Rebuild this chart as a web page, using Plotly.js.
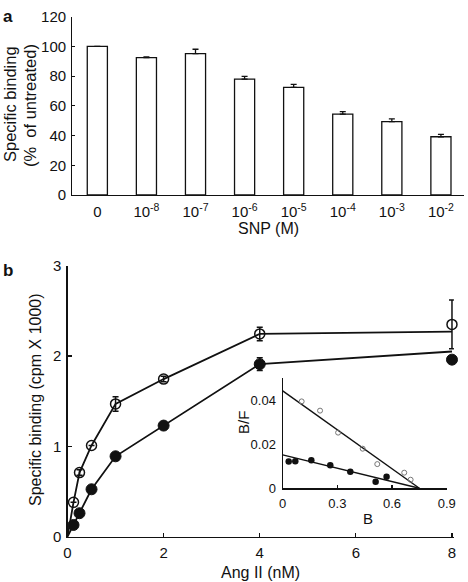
<!DOCTYPE html>
<html>
<head>
<meta charset="utf-8">
<script src="https://cdn.plot.ly/plotly-3.0.1.min.js"></script>
<style>html,body{margin:0;padding:0;background:#fff;}#chart{width:468px;height:582px;}</style>
</head>
<body>
<div id="chart"></div>
<script>
// ---- Panel a: SNP concentration vs specific binding (% of untreated)
const snpLabels = ['0', '10<sup>-8</sup>', '10<sup>-7</sup>', '10<sup>-6</sup>', '10<sup>-5</sup>', '10<sup>-4</sup>', '10<sup>-3</sup>', '10<sup>-2</sup>'];
const snpBinding = [100, 92.5, 95.1, 78.0, 72.5, 54.4, 49.4, 39.2];
const snpError = [0, 0.5, 3.0, 1.8, 2.0, 1.7, 1.8, 1.6];

// ---- Panel b: Ang II saturation binding (cpm x 1000)
const angII = [0.125, 0.25, 0.5, 1, 2, 4, 8];
const openBinding = [0.38, 0.71, 1.01, 1.47, 1.745, 2.245, 2.35];
const openError = [0, 0.03, 0, 0.08, 0.03, 0.075, 0.27];
const filledBinding = [0.13, 0.26, 0.525, 0.89, 1.23, 1.91, 1.96];
const filledError = [0, 0, 0, 0, 0.04, 0.07, 0];
// connecting curves (start at origin; end value from the fitted curve)
const curveX = [0, 0.125, 0.25, 0.5, 1, 2, 4, 8];
const openCurve = [0, 0.38, 0.71, 1.01, 1.47, 1.745, 2.245, 2.27];
const filledCurve = [0, 0.13, 0.26, 0.525, 0.89, 1.23, 1.91, 2.05];

// ---- Inset: Scatchard plot (B vs B/F)
const openB = [0.104, 0.205, 0.304, 0.439, 0.519, 0.667, 0.702];
const openBF = [0.0395, 0.0353, 0.0253, 0.018, 0.011, 0.0071, 0.0039];
const filledB = [0.033, 0.069, 0.157, 0.261, 0.371, 0.51, 0.57];
const filledBF = [0.0122, 0.0123, 0.0128, 0.0105, 0.0075, 0.003, 0.0053];
const openFitB = [0, 0.75];
const openFitBF = [0.0443, 0];
const filledFitB = [0, 0.75];
const filledFitBF = [0.0152, 0];

const W = 468, H = 582;
const px = v => v / W;
const py = v => 1 - v / H;
const FONT = 'Liberation Sans, Arial, Helvetica, sans-serif';
const INK = '#111';

const traces = [
  {
    type: 'bar', x: snpLabels, y: snpBinding, xaxis: 'x', yaxis: 'y',
    width: 0.41,
    marker: {color: '#fff', line: {color: INK, width: 1.3}},
    error_y: {type: 'data', symmetric: false, array: snpError, arrayminus: snpError.map(() => 0),
      color: INK, thickness: 1.3, width: 3}
  },
  // panel b curves
  {type: 'scatter', mode: 'lines', x: curveX, y: openCurve, xaxis: 'x2', yaxis: 'y2',
    line: {color: INK, width: 1.8}, cliponaxis: false},
  {type: 'scatter', mode: 'lines', x: curveX, y: filledCurve, xaxis: 'x2', yaxis: 'y2',
    line: {color: INK, width: 1.8}, cliponaxis: false},
  {type: 'scatter', mode: 'markers', x: angII, y: filledBinding, xaxis: 'x2', yaxis: 'y2',
    marker: {symbol: 'circle', size: 11, color: INK, line: {color: INK, width: 1}},
    error_y: {type: 'data', array: filledError, color: INK, thickness: 1.5, width: 3}, cliponaxis: false},
  {type: 'scatter', mode: 'markers', x: angII, y: openBinding, xaxis: 'x2', yaxis: 'y2',
    marker: {symbol: 'circle-open', size: 10, color: INK, line: {color: INK, width: 1.5}},
    error_y: {type: 'data', array: openError, color: INK, thickness: 1.5, width: 3}, cliponaxis: false},
  // inset
  {type: 'scatter', mode: 'lines', x: openFitB, y: openFitBF, xaxis: 'x3', yaxis: 'y3',
    line: {color: INK, width: 1.4}, cliponaxis: false},
  {type: 'scatter', mode: 'lines', x: filledFitB, y: filledFitBF, xaxis: 'x3', yaxis: 'y3',
    line: {color: INK, width: 1.4}, cliponaxis: false},
  {type: 'scatter', mode: 'markers', x: openB, y: openBF, xaxis: 'x3', yaxis: 'y3',
    marker: {symbol: 'circle-open', size: 5, color: '#777', line: {color: '#777', width: 1}}, cliponaxis: false},
  {type: 'scatter', mode: 'markers', x: filledB, y: filledBF, xaxis: 'x3', yaxis: 'y3',
    marker: {symbol: 'circle', size: 6.5, color: INK}, cliponaxis: false}
];

const axBase = {showline: true, linecolor: INK, linewidth: 1.2, showgrid: false, zeroline: false,
  tickcolor: INK, tickwidth: 1.2, fixedrange: true};

const layout = {
  width: W, height: H,
  margin: {l: 0, r: 0, t: 0, b: 0},
  paper_bgcolor: '#fff', plot_bgcolor: 'rgba(0,0,0,0)',
  showlegend: false,
  font: {family: FONT, color: INK, size: 15},
  xaxis: Object.assign({}, axBase, {
    domain: [px(72.3), px(464)], anchor: 'y', type: 'category',
    range: [-0.51, 7.47], ticks: '', tickfont: {size: 15}, ticklabelstandoff: 3
  }),
  yaxis: Object.assign({}, axBase, {
    domain: [py(195), py(16.7)], anchor: 'x', range: [0, 120], dtick: 20,
    ticks: 'inside', ticklen: 3, tickfont: {size: 15}, ticklabelstandoff: 2
  }),
  xaxis2: Object.assign({}, axBase, {
    domain: [px(67.5), px(453.9)], anchor: 'y2', range: [0, 8.04],
    tickvals: [0, 2, 4, 6, 8], ticktext: ['0', '2', '4', '6', '8'],
    ticks: 'inside', ticklen: 4, tickfont: {size: 15}, ticklabelstandoff: 2
  }),
  yaxis2: Object.assign({}, axBase, {
    domain: [py(536.7), py(265.7)], anchor: 'x2', range: [0, 3], dtick: 1,
    ticks: 'inside', ticklen: 4, tickfont: {size: 15}, ticklabelstandoff: 2
  }),
  xaxis3: Object.assign({}, axBase, {
    domain: [px(282.7), px(446.7)], anchor: 'y3', range: [0, 0.9],
    tickvals: [0, 0.3, 0.6, 0.9], ticktext: ['0', '0.3', '0.6', '0.9'],
    ticks: 'inside', ticklen: 3, tickfont: {size: 13}, ticklabelstandoff: 3
  }),
  yaxis3: Object.assign({}, axBase, {
    domain: [py(488.3), py(378.3)], anchor: 'x3', range: [0, 0.05],
    tickvals: [0, 0.02, 0.04], ticktext: ['0', '0.02', '0.04'],
    ticks: '', tickfont: {size: 13}, ticklabelstandoff: 3
  }),
  annotations: [
    {text: '<b>a</b>', x: px(1), y: py(16), xref: 'paper', yref: 'paper', xanchor: 'left', yanchor: 'middle',
      showarrow: false, font: {size: 17}},
    {text: '<b>b</b>', x: px(1), y: py(270), xref: 'paper', yref: 'paper', xanchor: 'left', yanchor: 'middle',
      showarrow: false, font: {size: 17}},
    {text: 'Specific binding', x: px(10), y: py(104), xref: 'paper', yref: 'paper', xanchor: 'center', yanchor: 'middle',
      textangle: -90, showarrow: false, font: {size: 16.5}},
    {text: '(%&nbsp; of untreated)', x: px(30), y: py(106), xref: 'paper', yref: 'paper', xanchor: 'center', yanchor: 'middle',
      textangle: -90, showarrow: false, font: {size: 16.5}},
    {text: 'SNP (M)', x: px(268), y: py(229), xref: 'paper', yref: 'paper', xanchor: 'center', yanchor: 'middle',
      showarrow: false, font: {size: 16}},
    {text: 'Specific binding (cpm X 1000)', x: px(35), y: py(400), xref: 'paper', yref: 'paper', xanchor: 'center', yanchor: 'middle',
      textangle: -90, showarrow: false, font: {size: 16}},
    {text: 'Ang II (nM)', x: px(260), y: py(572.5), xref: 'paper', yref: 'paper', xanchor: 'center', yanchor: 'middle',
      showarrow: false, font: {size: 16}},
    {text: 'B/F', x: px(243), y: py(423), xref: 'paper', yref: 'paper', xanchor: 'center', yanchor: 'middle',
      textangle: -90, showarrow: false, font: {size: 15}},
    {text: 'B', x: px(368), y: py(518), xref: 'paper', yref: 'paper', xanchor: 'center', yanchor: 'middle',
      showarrow: false, font: {size: 15}}
  ]
};

Plotly.newPlot('chart', traces, layout, {staticPlot: true, displayModeBar: false});
</script>
</body>
</html>
